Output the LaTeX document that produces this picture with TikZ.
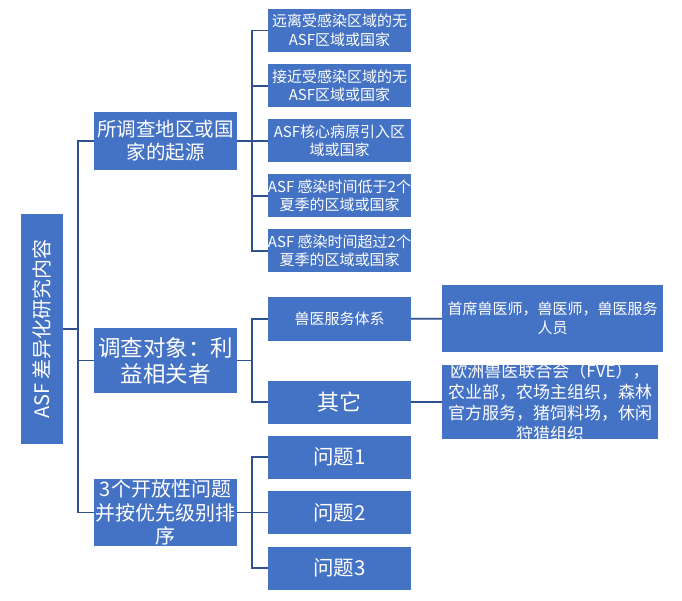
\documentclass[tikz,border=0pt]{standalone}
\usepackage{fontspec}
\setmainfont{Noto Sans CJK SC}
\usetikzlibrary{positioning}
\definecolor{boxblue}{RGB}{68,114,196}
\definecolor{lineblue}{RGB}{47,82,143}
\tikzset{%
	bluebox/.style={rectangle, fill=boxblue, text=white, inner sep=0pt, align=center},
	rootbox/.style={bluebox, minimum width=42pt, minimum height=230pt, font=\fontsize{20}{24}\selectfont},
	topicbox/.style={bluebox, minimum width=143pt, font=\fontsize{20}{23.5}\selectfont},
	leafbox/.style={bluebox, minimum width=143pt, minimum height=43pt, font=\fontsize{15}{18.5}\selectfont},
	conn/.style={draw=lineblue, line width=1.8pt},
	fork/.style={to path={(\tikztostart.east) -- ++(15,0) |- (\tikztotarget.west)}}
}

\begin{document}
\begin{tikzpicture}[x=1pt, y=-1pt]
			\useasboundingbox (0,0) rectangle (682,601);
			% root
			\node[rootbox] (root) at (42,329) {\rotatebox{90}{ASF 差异化研究内容}};
			
			% topics
			\node[topicbox, minimum height=58pt, font=\fontsize{19.5}{23}\selectfont] (origin) at (165.5,141) {所调查地区或国\\家的起源};
			\node[topicbox, minimum height=65pt, font=\fontsize{22.5}{26}\selectfont] (stake) at (165.5,360.5) {调查对象：利\\益相关者};
			\node[topicbox, minimum height=67pt] (quest) at (165.5,512.5) {3个开放性问题\\并按优先级别排\\序};
			
			% origin leaves
			\node[leafbox] (o1) at (339.5,30.5) {远离受感染区域的无\\ASF区域或国家};
			\node[leafbox] (o2) at (339.5,86) {接近受感染区域的无\\ASF区域或国家};
			\node[leafbox] (o3) at (339.5,141) {ASF核心病原引入区\\域或国家};
			\node[leafbox] (o4) at (339.5,196) {ASF 感染时间低于2个\\夏季的区域或国家};
			\node[leafbox] (o5) at (339.5,251) {ASF 感染时间超过2个\\夏季的区域或国家};
			
			% stakeholders
			\node[leafbox] (vet) at (339.5,319) {兽医服务体系};
			\node[leafbox, font=\fontsize{22}{26}\selectfont] (other) at (339.5,402) {其它};
			\node[bluebox, minimum width=221pt, minimum height=67pt, font=\fontsize{15}{19}\selectfont] (vetlist) at (552.5,318.5) {首席兽医师，兽医师，兽医服务\\人员};
			\node[bluebox, minimum width=216pt, minimum height=74pt, path picture={
				\node[text=white, align=center, font=\fontsize{17}{21}\selectfont] (othertext) at (path picture bounding box.center) {欧洲兽医联合会（FVE），\\农业部，农场主组织，森林\\官方服务，猪饲料场，休闲\\狩猎组织};
			}] (otherlist) at (550,402) {};
			
			% questions
			\node[leafbox, font=\fontsize{20.5}{24}\selectfont] (q1) at (339.5,457) {问题1};
			\node[leafbox, font=\fontsize{20.5}{24}\selectfont] (q2) at (339.5,512.5) {问题2};
			\node[leafbox, font=\fontsize{20.5}{24}\selectfont] (q3) at (339.5,568) {问题3};
			
			\path[conn] (root) edge[fork] (origin);
			\path[conn] (root) edge[fork] (stake);
			\path[conn] (root) edge[fork] (quest);
			
			\path[conn] (origin) edge[fork] (o1);
			\path[conn] (origin) edge[fork] (o2);
			\path[conn] (origin) edge[fork] (o3);
			\path[conn] (origin) edge[fork] (o4);
			\path[conn] (origin) edge[fork] (o5);
			
			\path[conn] (stake) edge[fork] (vet);
			\path[conn] (stake) edge[fork] (other);
			\path[conn] (vet) edge (vetlist);
			\path[conn] (other) edge (otherlist);
			
			\path[conn] (quest) edge[fork] (q1);
			\path[conn] (quest) edge[fork] (q2);
			\path[conn] (quest) edge[fork] (q3);
			
		\end{tikzpicture}
\end{document}
